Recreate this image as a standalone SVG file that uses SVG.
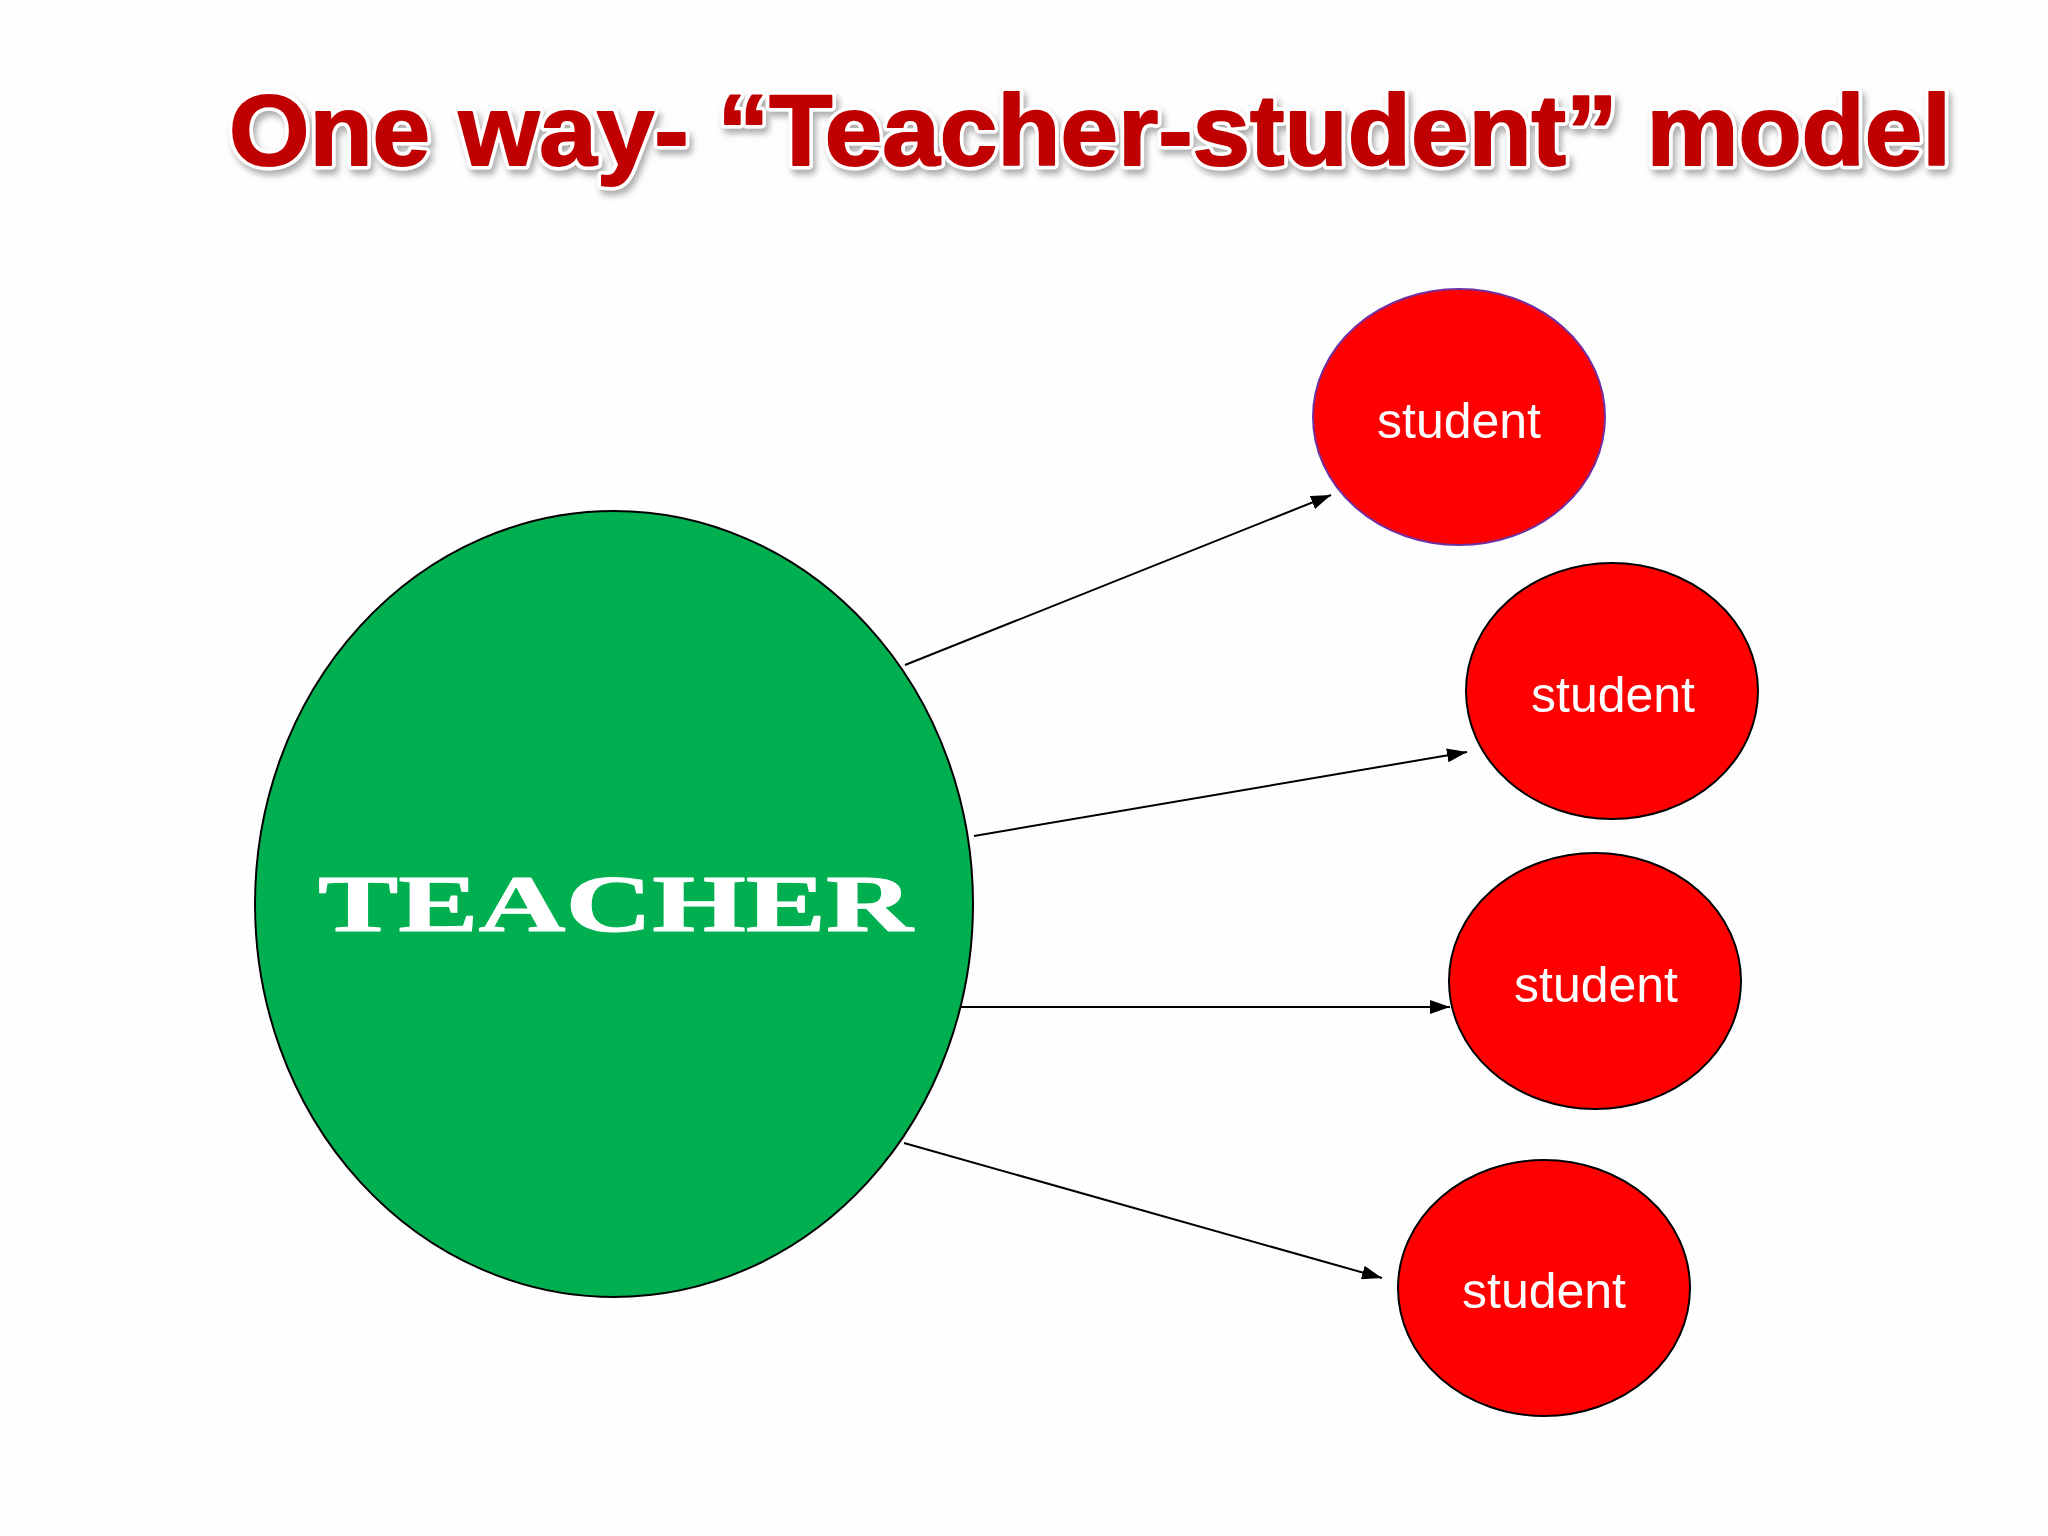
<svg xmlns="http://www.w3.org/2000/svg" width="2048" height="1536" viewBox="0 0 2048 1536">
  <defs>
    <style>
      .title { font-family: "Liberation Sans", Arial, sans-serif; font-weight: 900; font-size: 100px; fill: #C00000; }
      .title-outline { stroke: #ffffff; stroke-width: 9px; stroke-linejoin: round; }
      .title-body { stroke: #C00000; stroke-width: 2px; stroke-linejoin: round; }
      .teacher { fill: #00B050; stroke: #000000; stroke-width: 2px; }
      .teacher-label { font-family: "Liberation Serif", "DejaVu Serif", serif; font-weight: bold; font-size: 80px; fill: #ffffff; stroke: #ffffff; stroke-width: 1px; stroke-linejoin: round; }
      .student { fill: #FF0000; stroke: #000000; stroke-width: 2px; }
      .student-label { font-family: "Liberation Sans", Arial, sans-serif; font-size: 50px; fill: #ffffff; text-anchor: middle; }
      .conn { stroke: #000000; stroke-width: 2px; fill: none; marker-end: url(#arrow); }
    </style>
    <marker id="arrow" viewBox="0 0 20 14" refX="20" refY="7" markerWidth="20" markerHeight="14" markerUnits="userSpaceOnUse" orient="auto">
      <path d="M0,0 L20,7 L0,14 z" fill="#000000"/>
    </marker>
    <filter id="shadow" x="-5%" y="-30%" width="110%" height="160%">
      <feDropShadow dx="3" dy="5" stdDeviation="3" flood-color="#777777" flood-opacity="0.6"/>
    </filter>
  </defs>

  <rect x="0" y="0" width="2048" height="1536" fill="#FEFEFE"/>

  <g id="title">
    <text class="title title-outline" x="229" y="165" textLength="1722" lengthAdjust="spacingAndGlyphs" filter="url(#shadow)">One way- “Teacher-student” model</text>
    <text class="title title-body" x="229" y="165" textLength="1722" lengthAdjust="spacingAndGlyphs">One way- “Teacher-student” model</text>
  </g>

  <g id="connectors">
    <line class="conn" x1="905" y1="665" x2="1331" y2="495"/>
    <line class="conn" x1="974" y1="836" x2="1467" y2="752"/>
    <line class="conn" x1="959" y1="1007" x2="1450" y2="1007"/>
    <line class="conn" x1="904" y1="1143" x2="1382" y2="1278"/>
  </g>

  <g id="teacher">
    <ellipse class="teacher" cx="614" cy="904" rx="359" ry="393"/>
    <text class="teacher-label" x="318" y="931" textLength="595" lengthAdjust="spacingAndGlyphs">TEACHER</text>
  </g>

  <g id="student1">
    <ellipse class="student" cx="1459" cy="417" rx="146" ry="128" style="stroke:#7030A0"/>
    <text class="student-label" x="1459" y="438">student</text>
  </g>
  <g id="student2">
    <ellipse class="student" cx="1612" cy="691" rx="146" ry="128"/>
    <text class="student-label" x="1613" y="712">student</text>
  </g>
  <g id="student3">
    <ellipse class="student" cx="1595" cy="981" rx="146" ry="128"/>
    <text class="student-label" x="1596" y="1002">student</text>
  </g>
  <g id="student4">
    <ellipse class="student" cx="1544" cy="1288" rx="146" ry="128"/>
    <text class="student-label" x="1544" y="1308">student</text>
  </g>
</svg>
